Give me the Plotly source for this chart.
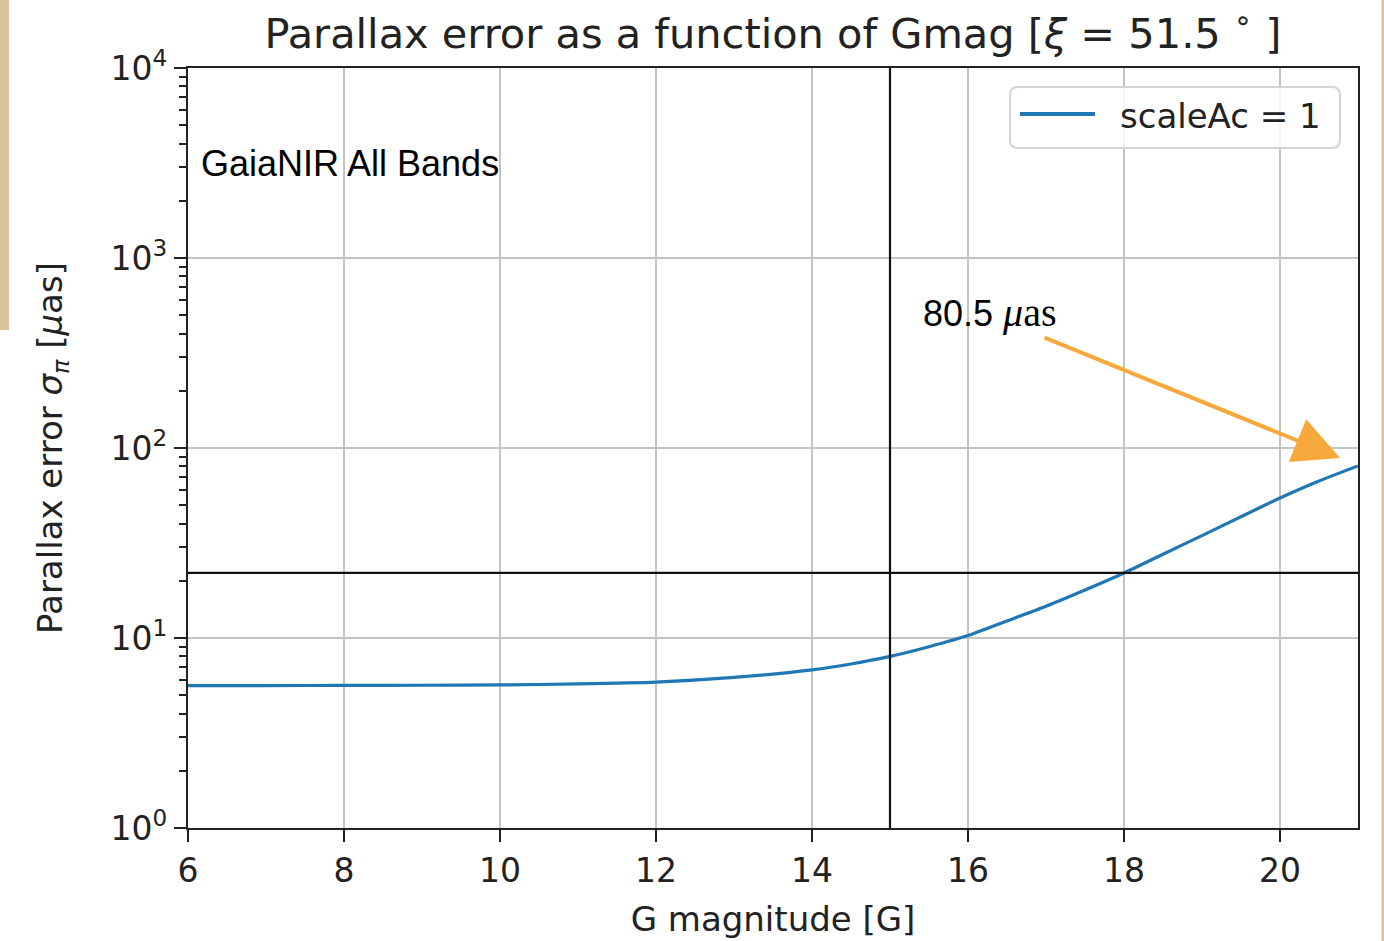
import math
import plotly.graph_objects as go

# ---- data ----
gmag = [6, 7, 8, 9, 10, 11, 12, 13, 14, 14.5, 15, 15.5, 16, 16.5, 17, 17.5,
        18, 18.5, 19, 19.5, 20, 20.5, 21]
sigma = [5.62, 5.62, 5.63, 5.64, 5.66, 5.73, 5.86, 6.2, 6.8, 7.3, 8.0, 9.0,
         10.3, 12.3, 14.7, 17.9, 22.0, 27.6, 34.6, 43.5, 54.5, 67.0, 80.5]
series_name = "scaleAc = 1"
vline_x = 15
hline_y = 22.0
arrow_target = (20.77, 88.6)
x_ticks = [6, 8, 10, 12, 14, 16, 18, 20]
y_ticks = [1, 10, 100, 1000, 10000]
y_ticktext = ["10<sup>0</sup>", "10<sup>1</sup>", "10<sup>2</sup>",
              "10<sup>3</sup>", "10<sup>4</sup>"]

FONT = "DejaVu Sans"
DARK = "#222222"
GRID = "#c4c4c4"
BLUE = "#1f77b4"

# plot-area geometry in pixels (for paper-coordinate conversions)
L, R, T, B = 188, 1358, 68, 828
def px(xp):
    return (xp - L) / (R - L)
def py(yp):
    return (B - yp) / (B - T)

fig = go.Figure()
fig.add_trace(go.Scatter(
    x=gmag, y=sigma, mode="lines", name=series_name, showlegend=False,
    line=dict(color=BLUE, width=3.2, shape="spline", smoothing=0.6),
))

axis_common = dict(
    showline=True, linecolor=DARK, linewidth=2.2, mirror=True,
    ticks="outside", ticklen=12, tickwidth=2, tickcolor=DARK,
    showgrid=True, gridcolor=GRID, gridwidth=2, zeroline=False,
    automargin=False,
    tickfont=dict(family=FONT, size=33, color=DARK),
)

fig.update_xaxes(
    range=[6, 21], tickvals=x_ticks, ticktext=[str(v) for v in x_ticks],
    title=dict(text="G magnitude [G]", font=dict(family=FONT, size=34, color=DARK), standoff=18),
    **axis_common,
)
fig.update_yaxes(
    type="log", range=[0, 4], tickvals=y_ticks, ticktext=y_ticktext,
    title=dict(text="Parallax error <i>σ</i><sub><i>π</i></sub> [<i>μ</i>as]",
               font=dict(family=FONT, size=34, color=DARK), standoff=38),
    minor=dict(ticks="outside", ticklen=7, tickwidth=1.6, tickcolor=DARK,
               dtick="D1", showgrid=False),
    **axis_common,
)

# legend box (rounded rectangle) drawn manually to match the long line sample
bx0, bx1, by0, by1 = px(1010), px(1340), py(148), py(87)
rx, ry = 8 / (R - L), 8 / (B - T)
legend_path = (
    f"M {bx0+rx},{by0} L {bx1-rx},{by0} Q {bx1},{by0} {bx1},{by0+ry} "
    f"L {bx1},{by1-ry} Q {bx1},{by1} {bx1-rx},{by1} "
    f"L {bx0+rx},{by1} Q {bx0},{by1} {bx0},{by1-ry} "
    f"L {bx0},{by0+ry} Q {bx0},{by0} {bx0+rx},{by0} Z"
)

shapes = [
    dict(type="rect", xref="paper", yref="paper",
         x0=px(0), x1=px(9), y0=py(330), y1=py(0),
         fillcolor="#d9c29c", line=dict(width=0), layer="below"),
    dict(type="rect", xref="paper", yref="paper",
         x0=px(1381.5), x1=px(1384), y0=py(941), y1=py(0),
         fillcolor="#d9c29c", line=dict(width=0), layer="below"),
    dict(type="line", xref="x", yref="paper", x0=vline_x, x1=vline_x, y0=0, y1=1,
         line=dict(color="#111111", width=2.2)),
    dict(type="line", xref="paper", yref="y", x0=0, x1=1, y0=hline_y, y1=hline_y,
         line=dict(color="#111111", width=2.2)),
    dict(type="path", xref="paper", yref="paper", path=legend_path,
         fillcolor="rgba(255,255,255,0.85)", line=dict(color="#d4d4d4", width=2)),
    dict(type="line", xref="paper", yref="paper", x0=px(1020), x1=px(1095),
         y0=py(114), y1=py(114), line=dict(color=BLUE, width=4)),
]

annotations = [
    dict(text=series_name, xref="paper", yref="paper",
         x=px(1118), y=py(116), xanchor="left", yanchor="middle", showarrow=False,
         font=dict(family=FONT, size=34, color=DARK)),
    dict(text="GaiaNIR All Bands", xref="paper", yref="paper",
         x=px(199), y=py(163), xanchor="left", yanchor="middle", showarrow=False,
         font=dict(family="Liberation Sans", size=36, color="black")),
    dict(text="80.5 <span style=\"font-family:'Liberation Serif';font-size:40px\"><i>μ</i>as</span>",
         xref="paper", yref="paper", x=px(921), y=py(312),
         xanchor="left", yanchor="middle", showarrow=False,
         font=dict(family="Liberation Sans", size=36, color="black")),
    dict(text="", x=arrow_target[0], y=math.log10(arrow_target[1]),
         xref="x", yref="y", showarrow=True, ax=-297, ay=-121,
         arrowhead=2, arrowsize=2.3, arrowwidth=4, arrowcolor="#f7a83b",
         standoff=0),
]

fig.update_layout(
    width=1384, height=941,
    margin=dict(l=L, r=1384 - R, t=T, b=941 - B, autoexpand=False),
    paper_bgcolor="white", plot_bgcolor="white",
    title=dict(text="Parallax error as a function of Gmag [<i>ξ</i> = 51.5 <sup>∘</sup> ]",
               font=dict(family=FONT, size=41.5, color=DARK),
               x=0.5, xref="paper", xanchor="center",
               y=1 - 33 / 941, yref="container", yanchor="middle"),
    showlegend=False,
    shapes=shapes,
    annotations=annotations,
)

fig.write_html("out.html")
